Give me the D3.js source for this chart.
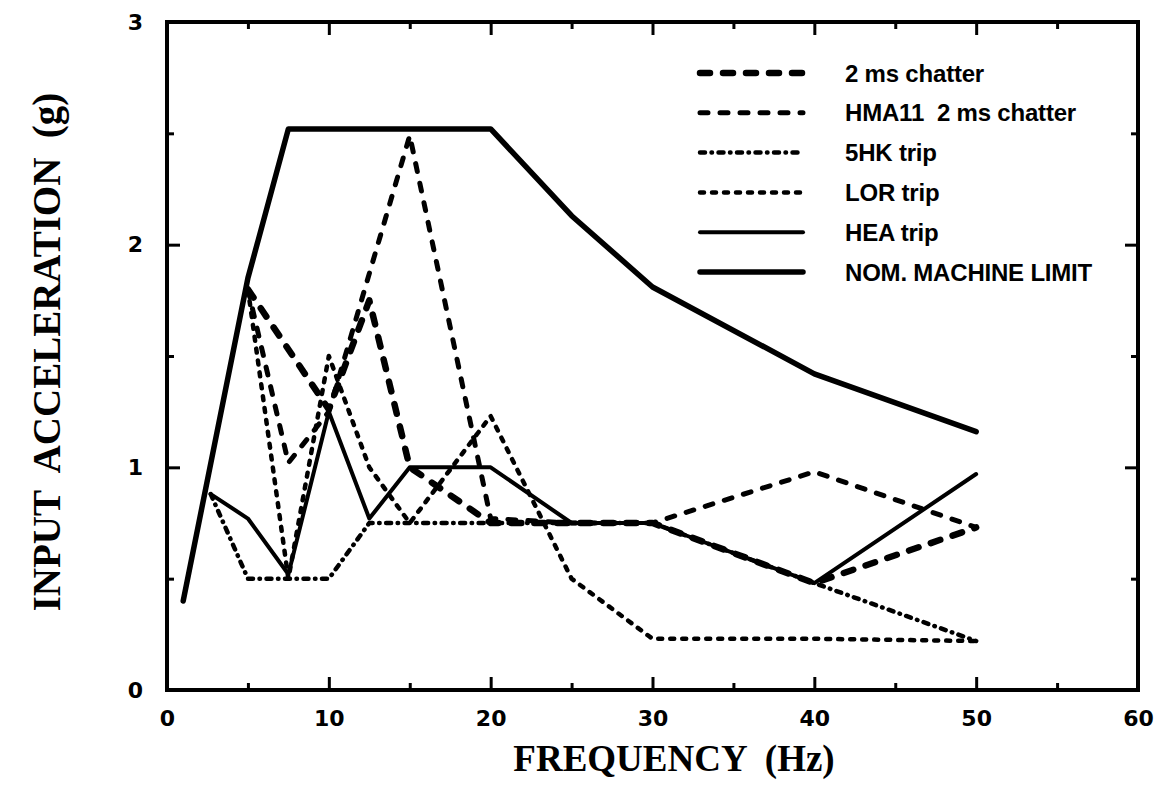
<!DOCTYPE html>
<html>
<head>
<meta charset="utf-8">
<script src="https://cdn.jsdelivr.net/npm/d3@7"></script>
<style>
  body { margin: 0; background: #fff; }
  svg { display: block; }
</style>
</head>
<body>
<svg width="1160" height="790"></svg>
<script>
// values
const xMajor = [0, 10, 20, 30, 40, 50, 60]
const xMinor = [5, 15, 25, 35, 45, 55]
const yMajor = [0, 1, 2, 3]
const yMinor = [0.5, 1.5, 2.5]

const limitFreq = [1, 5, 7.5, 20, 25, 30, 40, 50]
const limitAcc = [0.4, 1.85, 2.52, 2.52, 2.13, 1.81, 1.42, 1.16]

const heaFreq = [2.7, 5, 7.5, 10, 12.5, 15, 20, 25, 30, 40, 50]
const heaAcc = [0.88, 0.77, 0.52, 1.25, 0.77, 1.0, 1.0, 0.75, 0.75, 0.48, 0.97]

const shkFreq = [2.7, 5, 10, 12.5, 15, 20, 25, 30, 40, 50]
const shkAcc = [0.88, 0.5, 0.5, 0.75, 0.75, 0.75, 0.75, 0.75, 0.48, 0.22]

const lorFreq = [5, 7.5, 10, 12.5, 15, 20, 25, 30, 40, 50]
const lorAcc = [1.8, 0.5, 1.5, 1.0, 0.75, 1.23, 0.5, 0.23, 0.23, 0.22]

const hmaFreq = [5, 7.5, 10, 15, 20, 25, 30, 40, 50]
const hmaAcc = [1.8, 1.02, 1.25, 2.49, 0.77, 0.75, 0.75, 0.98, 0.73]

const chatFreq = [5, 10, 12.5, 15, 20, 25, 30, 40, 50]
const chatAcc = [1.8, 1.26, 1.75, 1.0, 0.75, 0.75, 0.75, 0.48, 0.73]

const legendLabels = ['2 ms chatter', 'HMA11  2 ms chatter', '5HK trip', 'LOR trip', 'HEA trip', 'NOM. MACHINE LIMIT']

const frame = { left: 167, right: 1138, top: 22, bottom: 690 }

const x = d3.scaleLinear().domain([0, 60]).range([frame.left, frame.right])
const y = d3.scaleLinear().domain([0, 3]).range([frame.bottom, frame.top])

const svg = d3.select('svg')

// line styles, same order as legend
const styles = [
  { w: 6.5, dash: '10,13', cap: 'round' },
  { w: 5, dash: '8,12', cap: 'round' },
  { w: 4.5, dash: '5,6.5,0.5,6.5', cap: 'round' },
  { w: 4.5, dash: '4,8', cap: 'round' },
  { w: 4, dash: null, cap: 'round' },
  { w: 5.5, dash: null, cap: 'round' }
]

const series = [
  chatFreq.map((f, i) => [f, chatAcc[i]]),
  hmaFreq.map((f, i) => [f, hmaAcc[i]]),
  shkFreq.map((f, i) => [f, shkAcc[i]]),
  lorFreq.map((f, i) => [f, lorAcc[i]]),
  heaFreq.map((f, i) => [f, heaAcc[i]]),
  limitFreq.map((f, i) => [f, limitAcc[i]])
]

const line = d3.line().x(d => x(d[0])).y(d => y(d[1]))

// axes: ticks pointing inward on all four sides
function styleAxis(g) {
  g.select('.domain').remove()
  g.selectAll('line').attr('stroke', '#000').attr('stroke-width', 3)
  g.selectAll('text')
    .attr('fill', '#000')
    .style('font-family', '"DejaVu Sans", Arial, sans-serif')
    .style('font-weight', 'bold')
    .style('font-size', '22px')
}

svg.append('g')
  .attr('transform', `translate(0,${frame.bottom})`)
  .call(d3.axisBottom(x).tickValues(xMajor).tickSize(-13).tickPadding(20).tickFormat(d3.format('d')))
  .call(styleAxis)
svg.append('g')
  .attr('transform', `translate(0,${frame.bottom})`)
  .call(d3.axisBottom(x).tickValues(xMinor).tickSize(-7).tickFormat(''))
  .call(styleAxis)
svg.append('g')
  .attr('transform', `translate(0,${frame.top})`)
  .call(d3.axisTop(x).tickValues(xMajor).tickSize(-13).tickFormat(''))
  .call(styleAxis)
svg.append('g')
  .attr('transform', `translate(0,${frame.top})`)
  .call(d3.axisTop(x).tickValues(xMinor).tickSize(-7).tickFormat(''))
  .call(styleAxis)
svg.append('g')
  .attr('transform', `translate(${frame.left},0)`)
  .call(d3.axisLeft(y).tickValues(yMajor).tickSize(-13).tickPadding(24).tickFormat(d3.format('d')))
  .call(styleAxis)
svg.append('g')
  .attr('transform', `translate(${frame.left},0)`)
  .call(d3.axisLeft(y).tickValues(yMinor).tickSize(-7).tickFormat(''))
  .call(styleAxis)
svg.append('g')
  .attr('transform', `translate(${frame.right},0)`)
  .call(d3.axisRight(y).tickValues(yMajor).tickSize(-13).tickFormat(''))
  .call(styleAxis)
svg.append('g')
  .attr('transform', `translate(${frame.right},0)`)
  .call(d3.axisRight(y).tickValues(yMinor).tickSize(-7).tickFormat(''))
  .call(styleAxis)

svg.append('rect')
  .attr('x', frame.left)
  .attr('y', frame.top)
  .attr('width', frame.right - frame.left)
  .attr('height', frame.bottom - frame.top)
  .attr('fill', 'none')
  .attr('stroke', '#000')
  .attr('stroke-width', 4)

// data lines
svg.append('g')
  .selectAll('path')
  .data(series)
  .join('path')
  .attr('d', line)
  .attr('fill', 'none')
  .attr('stroke', '#000')
  .attr('stroke-width', (d, i) => styles[i].w)
  .attr('stroke-dasharray', (d, i) => styles[i].dash)
  .attr('stroke-linecap', (d, i) => styles[i].cap)
  .attr('stroke-linejoin', 'round')

// legend
const legend = svg.append('g')
const rowY = d3.scaleLinear().domain([0, 5]).range([73, 272])
legendLabels.forEach((label, i) => {
  legend.append('line')
    .attr('x1', 700).attr('x2', 803)
    .attr('y1', rowY(i)).attr('y2', rowY(i))
    .attr('stroke', '#000')
    .attr('stroke-width', styles[i].w)
    .attr('stroke-dasharray', styles[i].dash)
    .attr('stroke-linecap', styles[i].cap)
  legend.append('text')
    .attr('x', 845)
    .attr('y', rowY(i))
    .attr('dy', '0.36em')
    .style('font-family', '"Liberation Sans", Arial, sans-serif')
    .style('font-weight', 'bold')
    .style('font-size', '24px')
    .style('letter-spacing', '-0.2px')
    .style('white-space', 'pre')
    .text(label)
})

// axis titles
svg.append('text')
  .attr('x', 674)
  .attr('y', 771)
  .attr('text-anchor', 'middle')
  .style('font-family', '"Liberation Serif", "Times New Roman", serif')
  .style('font-weight', 'bold')
  .style('font-size', '37px')
  .style('white-space', 'pre')
  .text('FREQUENCY  (Hz)')

svg.append('text')
  .attr('transform', 'translate(60,352) rotate(-90)')
  .attr('text-anchor', 'middle')
  .style('font-family', '"Liberation Serif", "Times New Roman", serif')
  .style('font-weight', 'bold')
  .style('font-size', '39px')
  .style('white-space', 'pre')
  .text('INPUT  ACCELERATION  (g)')
</script>
</body>
</html>
